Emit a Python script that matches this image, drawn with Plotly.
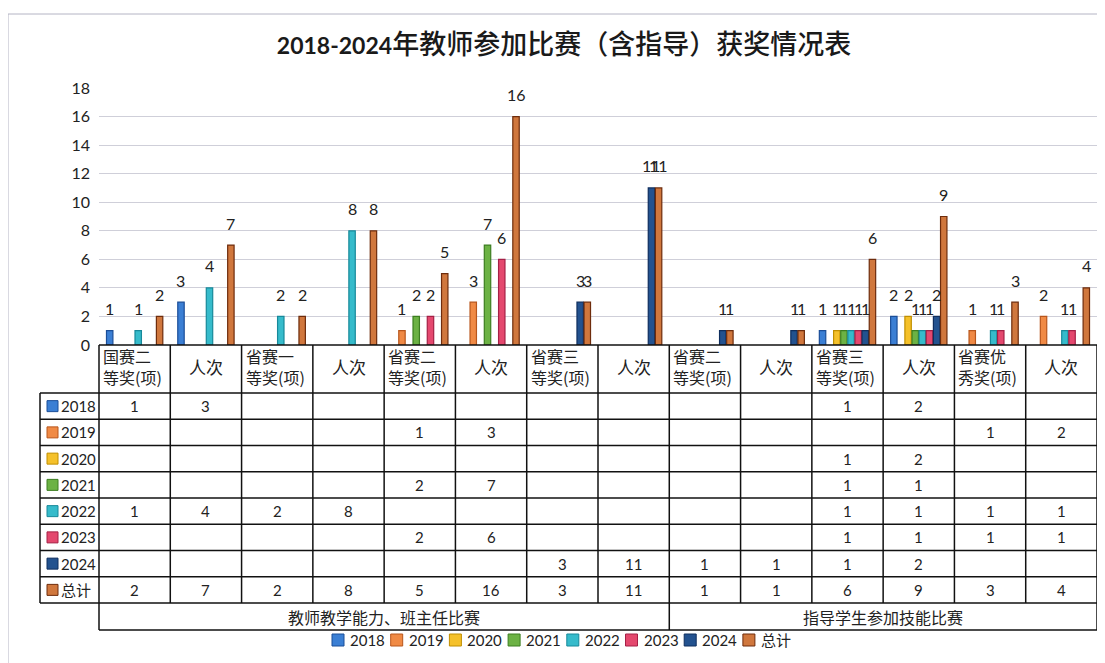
import plotly.graph_objects as go

# ---------------- data ----------------
series_names = ["2018", "2019", "2020", "2021", "2022", "2023", "2024", "总计"]
header_labels = ["国赛二<br>等奖(项)", "人次", "省赛一<br>等奖(项)", "人次",
                 "省赛二<br>等奖(项)", "人次", "省赛三<br>等奖(项)", "人次",
                 "省赛二<br>等奖(项)", "人次", "省赛三<br>等奖(项)", "人次",
                 "省赛优<br>秀奖(项)", "人次"]
group_labels = ["教师教学能力、班主任比赛", "指导学生参加技能比赛"]
group_sizes = [8, 6]
N = None
v2018 = [1, 3, N, N, N, N, N, N, N, N, 1, 2, N, N]
v2019 = [N, N, N, N, 1, 3, N, N, N, N, N, N, 1, 2]
v2020 = [N, N, N, N, N, N, N, N, N, N, 1, 2, N, N]
v2021 = [N, N, N, N, 2, 7, N, N, N, N, 1, 1, N, N]
v2022 = [1, 4, 2, 8, N, N, N, N, N, N, 1, 1, 1, 1]
v2023 = [N, N, N, N, 2, 6, N, N, N, N, 1, 1, 1, 1]
v2024 = [N, N, N, N, N, N, 3, 11, 1, 1, 1, 2, N, N]
v_total = [2, 7, 2, 8, 5, 16, 3, 11, 1, 1, 6, 9, 3, 4]
series_values = [v2018, v2019, v2020, v2021, v2022, v2023, v2024, v_total]
y_ticks = [0, 2, 4, 6, 8, 10, 12, 14, 16, 18]

# unique category keys (labels repeat, so index them)
categories = [f"{i + 1}:{h.replace('<br>', '')}" for i, h in enumerate(header_labels)]

# ---------------- style ----------------
fills = ["#3B7FD4", "#F08A45", "#F5C12A", "#6CB244", "#36BBCB", "#E4486E", "#23528F", "#D0773D"]
edges = ["#1B4E98", "#B8561C", "#C08F00", "#3C7E20", "#17899A", "#A52046", "#0F2E5E", "#6E2C0C"]

OFF = 8                       # page body margin
W, H = 1105 - OFF, 663 - OFF  # figure size
L, R, T, B = 99, 1097, 88, 345  # plot area in page pixels
CJK = "Noto Sans CJK SC"
NUM = "Lato, Noto Sans CJK SC"
TXT = "#222222"
BARGAP, GROUPGAP = 0.2, 0.1


def px(x):
    return (x - L) / (R - L)


def py(y):
    return (B - y) / (B - T)


fig = go.Figure()
for name, vals, fc, ec in zip(series_names, series_values, fills, edges):
    fig.add_trace(go.Bar(
        x=categories, y=vals, name=name,
        marker=dict(color=fc, line=dict(color=ec, width=1.2)),
        hoverinfo="x+y+name", showlegend=False,
    ))

shapes = []
annotations = []
ncol = len(categories)
nser = len(series_names)

# data labels above the bars (placed in data coordinates of each grouped bar)
slot = (1 - BARGAP) / nser
for k, vals in enumerate(series_values):
    for i, v in enumerate(vals):
        if v is None:
            continue
        annotations.append(dict(xref="x", yref="y", x=i - (1 - BARGAP) / 2 + slot * (k + 0.5), y=v,
                                text=str(v), showarrow=False, xanchor="center", yanchor="middle",
                                yshift=22, font=dict(family=NUM, size=16, color=TXT)))

line_kw = dict(color="#111111", width=1.5)

# table geometry (page pixels)
header_top, header_bot = 345, 393
row_h = (603 - 393) / nser
row_tops = [header_bot + row_h * k for k in range(nser + 1)]
grp_bot = 630
label_left = 40

# horizontal lines
shapes.append(dict(type="line", xref="paper", yref="paper", x0=0, x1=1,
                   y0=py(header_top), y1=py(header_top), line=line_kw))
for yy in row_tops:
    shapes.append(dict(type="line", xref="paper", yref="paper", x0=px(label_left), x1=1,
                       y0=py(yy), y1=py(yy), line=line_kw))
shapes.append(dict(type="line", xref="paper", yref="paper", x0=0, x1=1,
                   y0=py(grp_bot), y1=py(grp_bot), line=line_kw))
# vertical lines
shapes.append(dict(type="line", xref="paper", yref="paper", x0=px(label_left), x1=px(label_left),
                   y0=py(row_tops[0]), y1=py(row_tops[-1]), line=line_kw))
grp_bounds = [0]
for s in group_sizes:
    grp_bounds.append(grp_bounds[-1] + s)
for i in range(ncol + 1):
    bottom = grp_bot if i in grp_bounds else row_tops[-1]
    shapes.append(dict(type="line", xref="paper", yref="paper", x0=i / ncol, x1=i / ncol,
                       y0=py(header_top), y1=py(bottom), line=line_kw))

# header texts
for i, h in enumerate(header_labels):
    if "<br>" in h:
        annotations.append(dict(xref="paper", yref="paper", x=i / ncol + 2 / (R - L), y=py(366),
                                text=h, showarrow=False, xanchor="left", yanchor="middle", align="left",
                                font=dict(family=CJK, size=16, color=TXT)))
    else:
        annotations.append(dict(xref="paper", yref="paper", x=(i + 0.5) / ncol, y=py(366),
                                text=h, showarrow=False, xanchor="center", yanchor="middle",
                                font=dict(family=CJK, size=17, color=TXT)))

# row labels + cell values
for r, (name, vals, fc, ec) in enumerate(zip(series_names, series_values, fills, edges)):
    yc = (row_tops[r] + row_tops[r + 1]) / 2
    shapes.append(dict(type="rect", xref="paper", yref="paper",
                       x0=px(47), x1=px(58), y0=py(yc - 5.5), y1=py(yc + 5.5),
                       fillcolor=fc, line=dict(color=ec, width=1)))
    annotations.append(dict(xref="paper", yref="paper", x=px(59), y=py(yc), text=name,
                            showarrow=False, xanchor="left", yanchor="middle",
                            font=dict(family=NUM, size=15, color=TXT)))
    for c, v in enumerate(vals):
        if v is not None:
            annotations.append(dict(xref="paper", yref="paper", x=(c + 0.5) / ncol, y=py(yc),
                                    text=str(v), showarrow=False, xanchor="center", yanchor="middle",
                                    font=dict(family=NUM, size=15, color=TXT)))

# group row
for g, label in enumerate(group_labels):
    xc = (grp_bounds[g] + grp_bounds[g + 1]) / 2 / ncol
    annotations.append(dict(xref="paper", yref="paper", x=xc, y=py((row_tops[-1] + grp_bot) / 2),
                            text=label, showarrow=False, xanchor="center", yanchor="middle",
                            font=dict(family=CJK, size=16, color=TXT)))

# legend (bottom, drawn as swatches + labels)
leg_left, leg_step, leg_y = 332, 58.7, 640
for k, (name, fc, ec) in enumerate(zip(series_names, fills, edges)):
    x0 = leg_left + leg_step * k
    shapes.append(dict(type="rect", xref="paper", yref="paper",
                       x0=px(x0), x1=px(x0 + 12), y0=py(leg_y - 6), y1=py(leg_y + 6),
                       fillcolor=fc, line=dict(color=ec, width=1)))
    annotations.append(dict(xref="paper", yref="paper", x=px(x0 + 16), y=py(leg_y), text=name,
                            showarrow=False, xanchor="left", yanchor="middle",
                            font=dict(family=NUM, size=15, color=TXT)))

# scan frame
frame = dict(color="#b4b4c4", width=1)
shapes.append(dict(type="line", xref="paper", yref="paper", x0=px(8), x1=px(1105),
                   y0=py(14), y1=py(14), line=frame))
shapes.append(dict(type="line", xref="paper", yref="paper", x0=px(8), x1=px(8),
                   y0=py(14), y1=py(663), line=frame))

fig.update_layout(
    width=W, height=H,
    margin=dict(l=L - OFF, r=(1105 - R), t=T - OFF, b=663 - B, pad=0),
    paper_bgcolor="white", plot_bgcolor="white",
    title=dict(text="<b><span style='font-size:23px'>2018-2024</span></b>年教师参加比赛（含指导）获奖情况表",
               x=(564 - OFF) / W, xref="container", xanchor="center",
               y=1 - (45 - OFF) / H, yref="container", yanchor="middle",
               font=dict(family=NUM, size=27, color="#1a1a1a", weight=500)),
    barmode="group", bargap=BARGAP, bargroupgap=GROUPGAP,
    showlegend=False,
    xaxis=dict(type="category", range=[-0.5, ncol - 0.5], showticklabels=False,
               showgrid=False, zeroline=False, showline=False, ticks=""),
    yaxis=dict(range=[0, 18], tickvals=y_ticks, showgrid=True, gridcolor="#cfcfd9", gridwidth=1,
               zeroline=False, showline=False, ticks="", ticklabelstandoff=8,
               tickfont=dict(family=NUM, size=16, color=TXT)),
    shapes=shapes, annotations=annotations,
)

fig.write_html("out.html")
